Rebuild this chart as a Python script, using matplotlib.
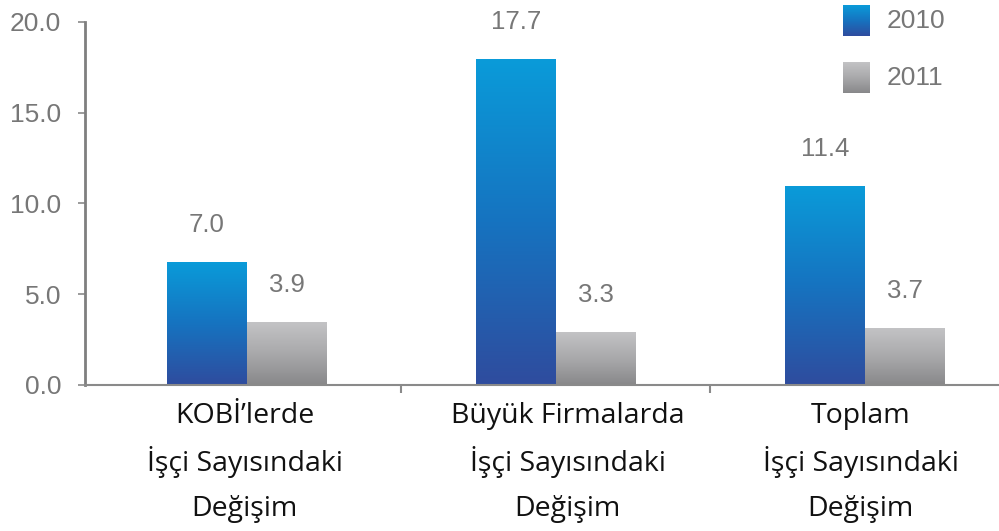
import numpy as np
import matplotlib.pyplot as plt
from matplotlib.colors import LinearSegmentedColormap

plt.rcParams['font.family'] = ['Liberation Sans', 'DejaVu Sans']

categories = ["KOBİ’lerde\nİşçi Sayısındaki\nDeğişim",
              "Büyük Firmalarda\nİşçi Sayısındaki\nDeğişim",
              "Toplam\nİşçi Sayısındaki\nDeğişim"]
series = ["2010", "2011"]
# bar heights as drawn in the picture
heights_2010 = [6.75, 17.9, 10.95]
heights_2011 = [3.45, 2.9, 3.1]
# value labels as printed
labels_2010 = ["7.0", "17.7", "11.4"]
labels_2011 = ["3.9", "3.3", "3.7"]

blue_cmap = LinearSegmentedColormap.from_list("b", ["#2f4c9e", "#1673c0", "#0a9bd9"])
gray_cmap = LinearSegmentedColormap.from_list("g", ["#88888a", "#a9a9ab", "#c3c3c5"])

fig = plt.figure(figsize=(9.99, 5.31), dpi=100)
ax = fig.add_axes([0.085, 0.275, 0.915, 0.684])

x = np.arange(len(categories))
w = 0.258
grad = np.linspace(0, 1, 256).reshape(-1, 1)

def gradient_bars(xs, hs, cmap):
    for xi, h in zip(xs, hs):
        ax.imshow(grad, cmap=cmap, origin="lower", aspect="auto",
                  extent=[xi - w / 2, xi + w / 2, 0, h], zorder=2)

gradient_bars(x - w / 2, heights_2010, blue_cmap)
gradient_bars(x + w / 2, heights_2011, gray_cmap)

for xi, h, t in zip(x - w / 2, heights_2010, labels_2010):
    ax.annotate(t, (xi, h), xytext=(0, 27), textcoords="offset points",
                ha="center", va="center", fontsize=18.5, color="#777777")
for xi, h, t in zip(x + w / 2, heights_2011, labels_2011):
    ax.annotate(t, (xi, h), xytext=(0, 27), textcoords="offset points",
                ha="center", va="center", fontsize=18.5, color="#777777")

ax.set_xlim(-0.524, 2.434)
ax.set_ylim(0, 20)
ax.set_yticks([0, 5, 10, 15, 20])
ax.set_yticklabels(["0.0", "5.0", "10.0", "15.0", "20.0"])
ax.tick_params(axis="y", labelsize=19, labelcolor="#777777", color="#8a8a8a",
               length=5, width=1.2, pad=12)

# category labels, one text per line to control the spacing
ax.set_xticks(x)
ax.set_xticklabels([])
ax.tick_params(axis="x", length=0)
shift = [-1.5, 8.5, -3]  # small horizontal nudges (points) seen in the original
for xi, cat, dx in zip(x, categories, shift):
    for j, line in enumerate(cat.split("\n")):
        ax.annotate(line, (xi, 0), xycoords=("data", "axes fraction"),
                    xytext=(dx, -22 - 33.5 * j), textcoords="offset points",
                    ha="center", va="center", fontsize=20.5, color="#111111",
                    family=["Open Sans", "DejaVu Sans"], annotation_clip=False)
ax.set_xticks([0.5, 1.5], minor=True)
ax.tick_params(axis="x", which="minor", length=6, width=1.5, color="#8a8a8a")

for s in ["top", "right"]:
    ax.spines[s].set_visible(False)
ax.spines["left"].set_color("#7f7f7f")
ax.spines["left"].set_linewidth(2)
ax.spines["bottom"].set_color("#8a8a8a")
ax.spines["bottom"].set_linewidth(1.5)

# legend with gradient swatches
lx0, lw = 843 / 999, 27 / 999
for i, (name, cmap) in enumerate([("2010", blue_cmap), ("2011", gray_cmap)]):
    ytop = 5 + i * 57
    yb = 1 - (ytop + 31) / 531
    lax = fig.add_axes([lx0, yb, lw, 31 / 531])
    lax.imshow(grad, cmap=cmap, origin="lower", aspect="auto")
    lax.axis("off")
    fig.text(887 / 999, 1 - (ytop + 16) / 531, name, fontsize=19,
             color="#777777", va="center", ha="left")

fig.savefig("out.png", dpi=100)
